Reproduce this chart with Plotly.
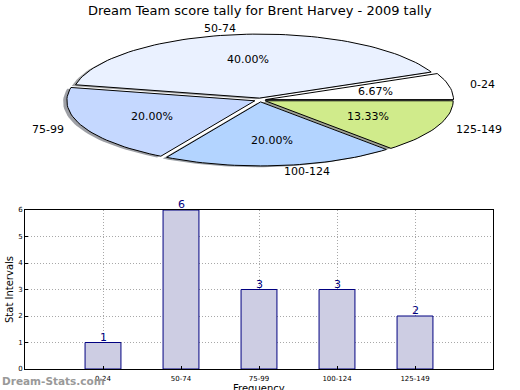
import math
import plotly.graph_objects as go

# ---- data ----
categories = ["0-24", "50-74", "75-99", "100-124", "125-149"]
counts = [1, 6, 3, 3, 2]
pie_colors = ["#ffffff", "#eaf1ff", "#c5d8ff", "#b3d4ff", "#d0eb8b"]
title_text = "Dream Team score tally for Brent Harvey - 2009 tally"
y_ticks = [0, 1, 2, 3, 4, 5, 6]

# ---- pie geometry (elliptical, exploded, shadowed like the original) ----
CX, CY, RX, RY = 260.0, 100.0, 188.0, 64.0
EXPLODE = 0.03
SHADOW = 0.02
FONT = "DejaVu Sans"

fig = go.Figure()

total = sum(counts)
fracs = [c / total for c in counts]

def wedge(t1, t2, ox, oy):
    n = max(8, int(abs(t2 - t1) / 2))
    xs, ys = [CX + ox], [CY + oy]
    for i in range(n + 1):
        t = math.radians(t1 + (t2 - t1) * i / n)
        xs.append(CX + ox + RX * math.cos(t))
        ys.append(CY + oy - RY * math.sin(t))
    xs.append(CX + ox)
    ys.append(CY + oy)
    return xs, ys

def hex_to_rgb(h):
    h = h.lstrip("#")
    return tuple(int(h[i:i + 2], 16) for i in (0, 2, 4))

angles = []
a = 0.0
for f in fracs:
    angles.append((a, a + 360 * f))
    a += 360 * f

# shadows first
for (t1, t2), col in zip(angles, pie_colors):
    tm = math.radians((t1 + t2) / 2)
    ox = EXPLODE * RX * math.cos(tm) - SHADOW * RX
    oy = -EXPLODE * RY * math.sin(tm) + SHADOW * RY
    xs, ys = wedge(t1, t2, ox, oy)
    r, g, b = hex_to_rgb(col)
    fig.add_trace(go.Scatter(x=xs, y=ys, mode="lines", fill="toself",
                             fillcolor=f"rgba({int(r*0.3)},{int(g*0.3)},{int(b*0.3)},0.5)",
                             line=dict(width=0), hoverinfo="skip", showlegend=False,
                             xaxis="x2", yaxis="y2"))

annotations = []
for (t1, t2), col, lab, f in zip(angles, pie_colors, categories, fracs):
    tm = math.radians((t1 + t2) / 2)
    ox = EXPLODE * RX * math.cos(tm)
    oy = -EXPLODE * RY * math.sin(tm)
    xs, ys = wedge(t1, t2, ox, oy)
    fig.add_trace(go.Scatter(x=xs, y=ys, mode="lines", fill="toself",
                             fillcolor=col, line=dict(color="black", width=1),
                             hoverinfo="skip", showlegend=False,
                             xaxis="x2", yaxis="y2"))
    # category label
    lx = CX + ox + 1.1 * RX * math.cos(tm)
    ly = CY + oy - 1.1 * RY * math.sin(tm)
    annotations.append(dict(x=lx, y=ly, xref="x2", yref="y2", text=lab, showarrow=False,
                            xanchor="left" if math.cos(tm) > 0 else "right",
                            yanchor="middle", font=dict(family=FONT, size=11, color="black")))
    # percent label
    px = CX + ox + 0.6 * RX * math.cos(tm)
    py = CY + oy - 0.6 * RY * math.sin(tm)
    annotations.append(dict(x=px, y=py, xref="x2", yref="y2", text=f"{f*100:.2f}%",
                            showarrow=False, xanchor="center", yanchor="middle",
                            font=dict(family=FONT, size=11, color="black")))

# ---- bar chart ----
xpos = list(range(1, len(categories) + 1))
fig.add_trace(go.Bar(x=xpos, y=counts, width=0.46,
                     marker=dict(color="#cdcde3", line=dict(color="#000080", width=1)),
                     hoverinfo="skip", showlegend=False, xaxis="x", yaxis="y"))
for xp, c in zip(xpos, counts):
    annotations.append(dict(x=xp, y=c, xref="x", yref="y", text=str(c), showarrow=False,
                            xanchor="center", yanchor="bottom", yshift=-3,
                            font=dict(family=FONT, size=11, color="#000080")))

annotations.append(dict(x=0.5, y=1 - 10 / 390, xref="paper", yref="paper", text=title_text,
                        showarrow=False, xanchor="center", yanchor="middle",
                        font=dict(family=FONT, size=13, color="black")))
annotations.append(dict(x=0, y=1 - 381 / 390, xref="paper", yref="paper",
                        text="<b>Dream-Stats.com</b>", showarrow=False,
                        xanchor="left", yanchor="middle",
                        font=dict(family=FONT, size=10.5, color="#999999")))
# axis titles
annotations.append(dict(x=259 / 520, y=1 - 388 / 390, xref="paper", yref="paper",
                        text="Frequency", showarrow=False, xanchor="center", yanchor="middle",
                        font=dict(family=FONT, size=10, color="black")))
annotations.append(dict(x=9 / 520, y=1 - 290 / 390, xref="paper", yref="paper",
                        text="Stat Intervals", showarrow=False, textangle=-90,
                        xanchor="center", yanchor="middle",
                        font=dict(family=FONT, size=10, color="black")))

grid = dict(showgrid=True, gridcolor="#a8a8a8", griddash="1px,2px", gridwidth=1,
            showline=True, linecolor="black", linewidth=1, mirror=True,
            ticks="inside", ticklen=3, tickcolor="black", zeroline=False,
            automargin=False)

fig.update_layout(
    width=520, height=390,
    margin=dict(l=0, r=0, t=0, b=0, autoexpand=False),
    paper_bgcolor="white", plot_bgcolor="rgba(0,0,0,0)",
    annotations=annotations,
    xaxis=dict(domain=[25 / 520, 493 / 520], range=[0, 6],
               tickvals=xpos, ticktext=categories, ticklabelstandoff=3,
               tickfont=dict(family=FONT, size=7, color="black"), **grid),
    yaxis=dict(domain=[1 - 369 / 390, 1 - 210 / 390], range=[0, 6],
               tickvals=y_ticks, tickfont=dict(family=FONT, size=7, color="black"), **grid),
    xaxis2=dict(domain=[0, 1], range=[0, 520], visible=False, anchor="y2"),
    yaxis2=dict(domain=[0.5, 1], range=[195, 0], visible=False, anchor="x2"),
)

fig.write_html("out.html", config={"displayModeBar": False},
               post_script="document.body.style.margin='0';")
